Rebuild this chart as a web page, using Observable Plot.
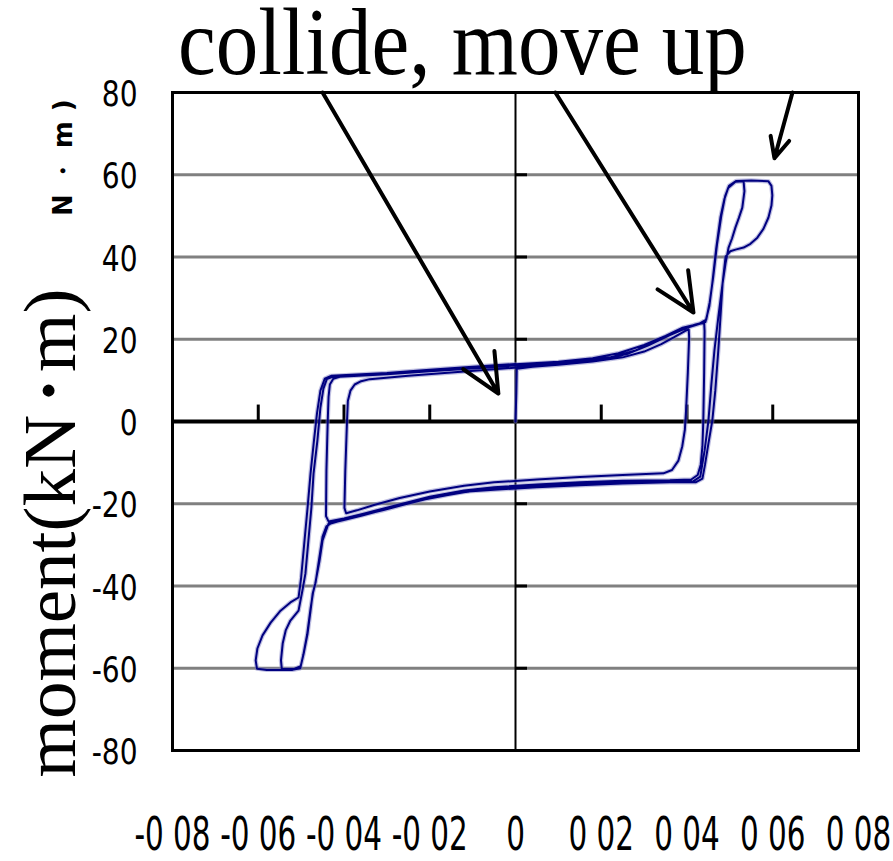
<!DOCTYPE html>
<html><head><meta charset="utf-8">
<script src="https://cdn.jsdelivr.net/npm/d3@7"></script>
<script src="https://cdn.jsdelivr.net/npm/@observablehq/plot@0.6"></script>
<style>
body{margin:0;background:#fff;}
</style>
</head><body><div id="chart"></div>
<script>
// ---- tick values / labels ----
const xTickValues = [-0.08, -0.06, -0.04, -0.02, 0, 0.02, 0.04, 0.06, 0.08];
const xTickLabels = ["-0 08", "-0 06", "-0 04", "-0 02", "0", "0 02", "0 04", "0 06", "0 08"];
const yTickValues = [-80, -60, -40, -20, 0, 20, 40, 60, 80];
const yTickLabels = ["-80", "-60", "-40", "-20", "0", "20", "40", "60", "80"];
const gridValues = [-60, -40, -20, 20, 40, 60];

// ---- texts ----
const titleText = "collide, move up";
const yTitleParts = ["moment(kN", "・", "m)"];
const yTitleRemnant = "N・m)";

// ---- hysteresis trace (displacement, moment kN·m) ----
const loadStart = [[0,0],[0.0002,7],[0.0003,12.8],[0.004,13.3]];
const cycle1 = [
 [0.010,13.8],[0.018,14.6],[0.025,15.6],[0.030,17.0],[0.034,18.8],[0.037,20.5],[0.0395,22.0],[0.0404,22.4],
 [0.0405,20.5],[0.0402,12],[0.0398,3],[0.0395,-2],[0.0389,-6],[0.0380,-9.5],[0.0365,-11.8],[0.0345,-12.6],
 [0.025,-13.0],[0.015,-13.5],[0.005,-14.1],[-0.005,-14.8],[-0.012,-15.6],[-0.020,-17.0],[-0.027,-18.6],[-0.033,-20.3],[-0.037,-21.6],[-0.0395,-22.3],
 [-0.0399,-21],[-0.0397,-12],[-0.0393,0],[-0.0391,5],[-0.0385,7.5],[-0.0375,9],[-0.036,9.8],[-0.034,10.3],
 [-0.025,11.1],[-0.015,11.9],[-0.005,12.7],[0.005,13.5]
];
const cycle2 = [
 [0.012,14.1],[0.020,15.1],[0.026,16.4],[0.031,18.5],[0.036,21.0],[0.040,22.8],[0.0432,23.8],[0.0440,24.0],
 [0.0441,22],[0.0440,12],[0.0438,0],[0.0436,-6],[0.0432,-10.5],[0.0425,-13],[0.041,-14.1],[0.036,-14.3],
 [0.025,-14.4],[0.015,-14.8],[0.005,-15.3],[-0.005,-16.0],[-0.012,-16.8],[-0.020,-18.3],[-0.028,-20.4],[-0.035,-22.3],[-0.040,-23.6],[-0.0436,-24.3],
 [-0.0442,-23],[-0.0441,-12],[-0.0438,0],[-0.0436,6],[-0.0433,9],[-0.0425,10.4],[-0.041,10.9],
 [-0.030,11.5],[-0.020,12.2],[-0.010,12.9],[0,13.6],[0.008,14.1]
];
const cycle3 = [
 [0.016,14.8],[0.022,15.6],[0.028,17.3],[0.033,19.6],[0.038,22.2],[0.042,23.6],[0.0443,24.2],
 [0.0452,28],[0.0459,33.6],[0.0468,42],[0.0478,49.6],[0.0487,54],[0.0496,56.8],[0.0513,58.3],[0.0532,58.4],
 [0.0534,56],[0.0529,52],[0.0521,49.5],[0.0513,47.2],[0.0505,44.5],[0.0497,42.3],
 [0.0490,38.5],[0.0483,33.6],[0.0473,25.3],[0.0464,17.3],[0.0457,9.2],[0.0450,0.2],[0.0441,-7.1],[0.0431,-13.4],[0.0415,-14.5],[0.035,-14.6],
 [0.025,-14.8],[0.015,-15.1],[0.005,-15.6],[-0.005,-16.3],[-0.013,-17.3],[-0.021,-18.9],[-0.029,-21.0],[-0.036,-22.9],[-0.041,-24.2],[-0.0436,-24.8],
 [-0.0450,-28.9],[-0.0457,-33.8],[-0.0467,-39.4],[-0.0473,-41.8],[-0.0478,-46],[-0.0485,-51.6],[-0.0494,-56.4],[-0.0501,-59.5],[-0.0515,-60.1],[-0.0545,-60.2],
 [-0.0547,-58.1],[-0.0543,-54],[-0.0536,-50.8],[-0.0525,-48.4],[-0.0506,-46],
 [-0.0497,-41.1],[-0.0490,-37],[-0.0483,-28.9],[-0.0476,-20.9],[-0.0471,-12.6],[-0.0462,-4.6],[-0.0455,3.4],[-0.0448,8],[-0.0440,10.3],[-0.0425,10.9],
 [-0.030,11.7],[-0.020,12.4],[-0.010,13.1],[0,13.9],[0.010,14.5]
];
const cycle4 = [
 [0.018,15.4],[0.024,16.6],[0.030,18.6],[0.035,20.8],[0.039,22.8],[0.0429,23.8],[0.0445,24.8],
 [0.0453,29],[0.0461,35],[0.0470,43],[0.0480,50],[0.0489,54.8],[0.0498,57.3],[0.0515,58.5],[0.055,58.6],[0.0590,58.4],
 [0.0597,57.3],[0.0599,55],[0.0597,52.5],[0.0590,49.6],[0.0578,46.8],[0.0564,44.7],[0.0548,43.2],[0.0532,42.3],[0.0513,41.8],[0.0501,41.4],
 [0.0490,40.1],[0.0483,33.6],[0.0478,25.3],[0.0473,17.3],[0.0466,7.5],[0.0459,0.2],[0.0450,-5.3],[0.0442,-10.5],[0.0436,-13.9],[0.0420,-14.8],[0.036,-14.8],
 [0.025,-15.1],[0.015,-15.5],[0.005,-16.0],[-0.005,-16.6],[-0.011,-17.0],[-0.0205,-18.7],[-0.031,-21.6],[-0.0385,-23.4],[-0.0431,-24.8],[-0.0441,-25.5],
 [-0.0450,-28],[-0.0458,-33.5],[-0.0466,-39],[-0.0472,-41.5],[-0.0478,-45.5],[-0.0486,-51.8],[-0.0495,-56.8],[-0.0502,-60],[-0.052,-60.4],[-0.058,-60.4],[-0.0603,-60.1],
 [-0.0606,-58.1],[-0.0602,-55.2],[-0.0590,-52],[-0.0571,-48.9],[-0.0548,-46],[-0.0525,-44],[-0.0506,-42.8],
 [-0.0500,-38],[-0.0493,-30],[-0.0485,-21],[-0.0478,-12.6],[-0.0470,-4.6],[-0.0463,2],[-0.0455,7.5],[-0.0445,10.4],[-0.043,11.1],
 [-0.030,11.8],[-0.020,12.6],[-0.010,13.3],[0,14.0]
];

// ---- annotation arrows (data units) ----
const arrowX1 = [-0.0450, 0.0093, 0.0646];
const arrowY1 = [80, 80, 80];
const arrowX2 = [-0.0040, 0.0415, 0.0604];
const arrowY2 = [6.8, 26.5, 64];

// ---- build ----
const trace = [...loadStart, ...cycle1, ...cycle2, ...cycle3, ...cycle4].map(([x, y]) => ({x, y}));
const arrows = arrowX1.map((d, i) => ({x1: d, y1: arrowY1[i], x2: arrowX2[i], y2: arrowY2[i]}));
const xLabel = new Map(xTickValues.map((v, i) => [Math.round(v * 100), xTickLabels[i]]));
const yLabel = new Map(yTickValues.map((v, i) => [v, yTickLabels[i]]));
const sans = "'DejaVu Sans',sans-serif";
const serif = "'Liberation Serif','Times New Roman',serif";

const plot = Plot.plot({
  width: 893, height: 861,
  marginLeft: 172, marginRight: 35, marginTop: 92, marginBottom: 111,
  x: {domain: [-0.08, 0.08], label: null},
  y: {domain: [-80, 80], label: null},
  style: {background: "white", fontFamily: sans, color: "black", overflow: "visible"},
  marks: [
    Plot.gridY(gridValues, {stroke: "#808080", strokeOpacity: 1, strokeWidth: 3}),
    Plot.ruleY([0], {stroke: "black", strokeWidth: 4}),
    Plot.ruleX([0], {stroke: "black", strokeWidth: 2}),
    Plot.ruleX(xTickValues.filter(v => v !== 0), {y1: 0, y2: 4, stroke: "black", strokeWidth: 3}),
    Plot.ruleY(gridValues, {x1: 0, x2: 0.0028, stroke: "black", strokeWidth: 3}),
    Plot.line(trace, {x: "x", y: "y", stroke: "#8080c4", strokeWidth: 4.4, strokeOpacity: 0.5, strokeLinejoin: "round"}),
    Plot.line(trace, {x: "x", y: "y", stroke: "#000080", strokeWidth: 2, strokeLinejoin: "round"}),
    Plot.arrow(arrows, {x1: "x1", y1: "y1", x2: "x2", y2: "y2", stroke: "black", strokeWidth: 4, headAngle: 50, headLength: 16}),
    Plot.frame({stroke: "black", strokeWidth: 3}),
    Plot.axisY(yTickValues, {tickSize: 0, tickPadding: 35, tickFormat: d => yLabel.get(d), fontSize: 36, label: null}),
    Plot.axisX(xTickValues, {tickSize: 0, tickPadding: 67, tickFormat: d => xLabel.get(Math.round(d * 100)), fontSize: 46, label: null})
  ]
});
document.getElementById("chart").appendChild(plot);

const svg = d3.select(plot);

// condense the tick-label glyphs horizontally (narrow font look); keep Plot's vertical offsets
function squeeze(sel, sx, shiftY) {
  sel.each(function() {
    const t = d3.select(this);
    const x = +t.attr("x") || 0;
    const tr = t.attr("transform") || "";
    t.attr("x", null)
     .attr("transform", `${tr} translate(${x},${shiftY}) scale(${sx},1)`);
  });
}
squeeze(svg.selectAll('[aria-label="x-axis tick label"] text'), 0.64, 0);
squeeze(svg.selectAll('[aria-label="y-axis tick label"] text'), 0.78, 2);

// title, slightly stretched vertically as in the reference
svg.append("text")
  .attr("transform", "translate(178,74) scale(1,1.13)")
  .attr("text-anchor", "start")
  .attr("font-family", serif).attr("font-size", 85).attr("fill", "black")
  .text(titleText);

const yt = svg.append("text")
  .attr("transform", "translate(75,533) rotate(-90)")
  .attr("text-anchor", "middle")
  .attr("font-family", serif).attr("font-size", 75).attr("fill", "black");
yt.append("tspan").text(yTitleParts[0]);
yt.append("tspan").attr("dx", -14).attr("letter-spacing", -18).text(yTitleParts[1]);
yt.append("tspan").text(yTitleParts[2]);

svg.append("text")
  .attr("transform", "translate(72,216) rotate(-90)")
  .attr("text-anchor", "start")
  .attr("font-family", sans).attr("font-size", 26).attr("font-weight", "bold")
  .attr("letter-spacing", 10).attr("fill", "black")
  .text(yTitleRemnant);
</script>
</body></html>
